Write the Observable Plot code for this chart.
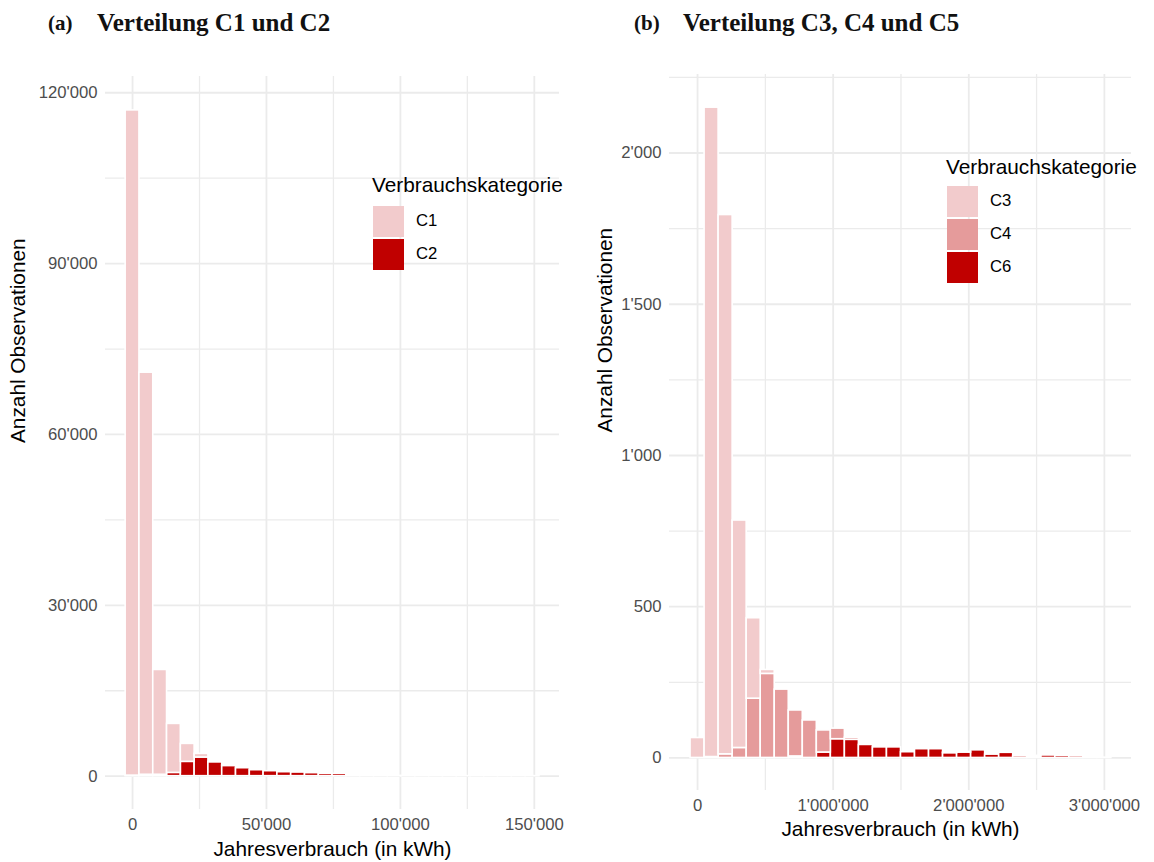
<!DOCTYPE html>
<html>
<head>
<meta charset="utf-8">
<script src="https://cdn.jsdelivr.net/npm/d3@7"></script>
<script src="https://cdn.jsdelivr.net/npm/@observablehq/plot@0.6"></script>
<style>
  html, body { margin: 0; padding: 0; background: #fff; }
  #root { position: relative; width: 1154px; height: 862px; overflow: hidden; font-family: "Liberation Sans", Arial, sans-serif; }
  .panel { position: absolute; top: 50px; width: 577px; height: 812px; }
  .ttl { position: absolute; font-family: "Liberation Serif", "Times New Roman", serif; font-weight: bold; line-height: 1; white-space: nowrap; color: #111; }
  .leg { position: absolute; line-height: 1; white-space: nowrap; color: #000; }
  .sw { position: absolute; width: 31px; height: 31px; }
</style>
</head>
<body>
<div id="root"></div>
<script>
// ---------- Data ----------
// Panel (a): 30 bins, bin width (kWh), bin i centred at i * width
const binWidthA = 5150;
const countsC1 = [116800, 70600, 18400, 8600, 3150, 640, 30, 130, 0, 0, 0, 0, 0, 0, 0, 0, 0, 220, 0, 0, 0, 0, 0, 0, 0, 0, 0, 0, 0, 0];
const countsC2 = [100, 250, 250, 580, 2520, 3280, 2460, 1800, 1400, 1050, 880, 700, 640, 530, 410, 410, 230, 0, 40, 30, 30, 20, 20, 20, 10, 10, 10, 10, 10, 10];
const categoriesA = ["C1", "C2"];

// Panel (b): 30 bins
const binWidthB = 103448;
const countsC3 = [66, 2147, 1783, 752, 266, 13, 0, 0, 0, 0, 0, 0, 0, 0, 0, 0, 0, 0, 0, 0, 0, 0, 0, 0, 0, 0, 0, 0, 0, 0];
const countsC4 = [0, 3, 12, 33, 196, 278, 226, 152, 124, 73, 35, 7, 0, 0, 0, 0, 0, 0, 2, 2, 2, 0, 0, 0, 2, 2, 0, 0, 0, 0];
const countsC6 = [0, 0, 0, 0, 0, 0, 0, 5, 0, 18, 62, 60, 43, 35, 35, 19, 29, 29, 16, 18, 26, 11, 17, 6, 5, 9, 7, 6, 1, 1];
const categoriesB = ["C3", "C4", "C6"];

const ticksAx = [0, 50000, 100000, 150000];
const minorAx = [25000, 75000, 125000];
const ticksAy = [0, 30000, 60000, 90000, 120000];
const minorAy = [15000, 45000, 75000, 105000];
const ticksBx = [0, 1000000, 2000000, 3000000];
const minorBx = [500000, 1500000, 2500000];
const ticksBy = [0, 500, 1000, 1500, 2000];
const minorBy = [250, 750, 1250, 1750, 2250];

const colorsA = ["#F2CBCC", "#C00000"];
const colorsB = ["#F2CBCC", "#E59B9B", "#C00000"];

const titleA = ["(a)", "Verteilung C1 und C2"];
const titleB = ["(b)", "Verteilung C3, C4 und C5"];
const xTitle = "Jahresverbrauch (in kWh)";
const yTitle = "Anzahl Observationen";
const legendTitle = "Verbrauchskategorie";

// ---------- Helpers ----------
const fmt = d3.formatLocale({decimal: ".", thousands: "'", grouping: [3], currency: ["", ""]}).format(",d");

function rows(series, width) {
  const out = [];
  for (const [cat, counts] of series) {
    counts.forEach((c, i) => out.push({cat, x1: (i - 0.5) * width, x2: (i + 0.5) * width, count: c}));
  }
  return out;
}

const GRID = "#EBEBEB";
const TICK_FS = 16.7;
const TITLE_FS = 20.8;

function panel({data, xDomain, yDomain, margins, catDomain, colors, xt, xm, yt, ym, xTitleDy, yTitleDx}) {
  return Plot.plot({
    width: 577,
    height: 812,
    ...margins,
    style: {fontFamily: "Liberation Sans, Arial, sans-serif", fontSize: TICK_FS + "px", color: "#4D4D4D", background: "white"},
    x: {domain: xDomain},
    y: {domain: yDomain},
    color: {domain: catDomain, range: colors},
    marks: [
      Plot.gridX(xm, {stroke: GRID, strokeOpacity: 1, strokeWidth: 1.3}),
      Plot.gridY(ym, {stroke: GRID, strokeOpacity: 1, strokeWidth: 1.3}),
      Plot.gridX(xt, {stroke: GRID, strokeOpacity: 1, strokeWidth: 1.8}),
      Plot.gridY(yt, {stroke: GRID, strokeOpacity: 1, strokeWidth: 1.8}),
      Plot.rectY(data, {x1: "x1", x2: "x2", y: "count", fill: "cat", stroke: "white", strokeWidth: 1.6}),
      Plot.axisX(xt, {tickSize: 0, tickPadding: 9, tickFormat: fmt, label: null, fontSize: TICK_FS, fill: "#4D4D4D"}),
      Plot.axisY(yt, {tickSize: 0, tickPadding: 8, tickFormat: fmt, label: null, fontSize: TICK_FS, fill: "#4D4D4D"}),
      Plot.text([xTitle], {frameAnchor: "bottom", dy: xTitleDy, fontSize: TITLE_FS, fill: "black"}),
      Plot.text([yTitle], {frameAnchor: "left", dx: yTitleDx, rotate: -90, fontSize: TITLE_FS, fill: "black"})
    ]
  });
}

const root = document.getElementById("root");

function addTitle(left, parts) {
  const a = document.createElement("div");
  a.className = "ttl"; a.style.left = left[0] + "px"; a.style.top = "13px"; a.style.fontSize = "21px";
  a.textContent = parts[0];
  root.appendChild(a);
  const b = document.createElement("div");
  b.className = "ttl"; b.style.left = left[1] + "px"; b.style.top = "10px"; b.style.fontSize = "25px";
  b.textContent = parts[1];
  root.appendChild(b);
}

function addLegend(x, titleCenterY, firstTop, cats, colors) {
  const t = document.createElement("div");
  t.className = "leg"; t.style.left = x + "px"; t.style.top = (titleCenterY - 0.49 * TITLE_FS) + "px";
  t.style.fontSize = TITLE_FS + "px"; t.textContent = legendTitle;
  root.appendChild(t);
  cats.forEach((c, i) => {
    const top = firstTop + i * 33;
    const s = document.createElement("div");
    s.className = "sw"; s.style.left = (x + 1) + "px"; s.style.top = top + "px"; s.style.background = colors[i];
    root.appendChild(s);
    const l = document.createElement("div");
    l.className = "leg"; l.style.left = (x + 44) + "px"; l.style.top = (top + 15.5 - 0.49 * TICK_FS) + "px";
    l.style.fontSize = TICK_FS + "px"; l.textContent = c;
    root.appendChild(l);
  });
}

// Panel (a)
const pa = document.createElement("div");
pa.className = "panel"; pa.style.left = "0px";
pa.appendChild(panel({
  data: rows([["C2", countsC2], ["C1", countsC1]], binWidthA),
  xDomain: [-10100, 159400],
  yDomain: [-5850, 122850],
  margins: {marginLeft: 105, marginRight: 18, marginTop: 26, marginBottom: 53},
  catDomain: categoriesA, colors: colorsA,
  xt: ticksAx, xm: minorAx, yt: ticksAy, ym: minorAy,
  xTitleDy: 46, yTitleDx: -87
}));
root.appendChild(pa);

// Panel (b)
const pb = document.createElement("div");
pb.className = "panel"; pb.style.left = "577px";
pb.appendChild(panel({
  data: rows([["C6", countsC6], ["C4", countsC4], ["C3", countsC3]], binWidthB),
  xDomain: [-207000, 3200000],
  yDomain: [-107.6, 2259.6],
  margins: {marginLeft: 92, marginRight: 23, marginTop: 24, marginBottom: 72},
  catDomain: categoriesB, colors: colorsB,
  xt: ticksBx, xm: minorBx, yt: ticksBy, ym: minorBy,
  xTitleDy: 45, yTitleDx: -64
}));
root.appendChild(pb);

addTitle([48, 97], titleA);
addTitle([634, 683], titleB);
addLegend(372, 185, 206, categoriesA, colorsA);
addLegend(946, 167, 186, categoriesB, colorsB);
</script>
</body>
</html>
